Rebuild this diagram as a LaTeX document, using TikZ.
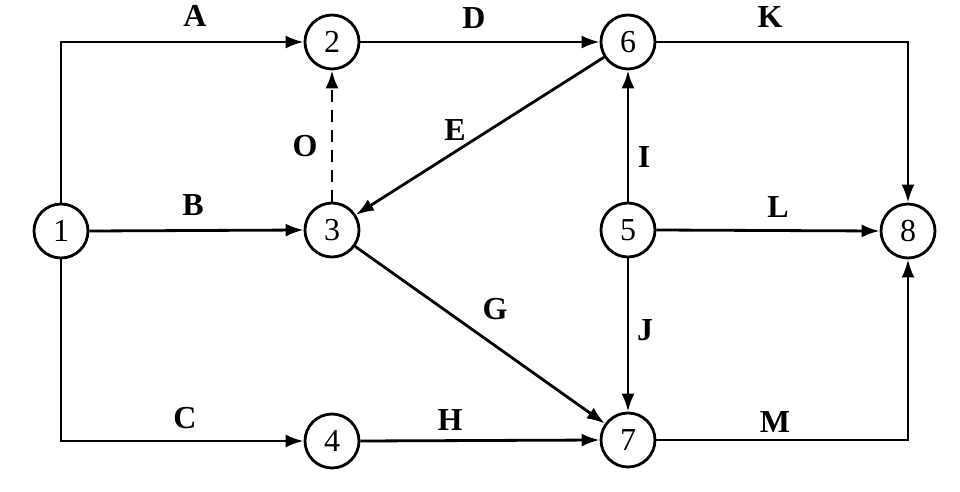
\documentclass[tikz,border=0pt]{standalone}
\usepackage{fontspec}
\setmainfont{Liberation Serif}
\usetikzlibrary{arrows.meta}
\begin{document}
\begin{tikzpicture}[x=1pt,y=-1pt,
  ev/.style={circle,draw,line width=2.8pt,minimum size=54pt,inner sep=0pt,font=\fontsize{32}{36}\selectfont},
  act/.style={line width=2.8pt,-{Latex[length=18pt,width=13pt]}},
  lab/.style={inner sep=0pt,font=\fontsize{32}{36}\selectfont\bfseries}]
\useasboundingbox (0,0) rectangle (960,492);
\node[ev] (n1) at (61,231) {1};
\node[ev] (n2) at (332,42) {2};
\node[ev] (n3) at (332,230) {3};
\node[ev] (n4) at (332,441) {4};
\node[ev] (n5) at (628,230) {5};
\node[ev] (n6) at (628,42) {6};
\node[ev] (n7) at (628,440) {7};
\node[ev] (n8) at (908,231) {8};
\draw[act] (n1.north) |- (n2.west);
\draw[act] (n1.east) -- (n3.west);
\draw[act] (n1.south) |- (n4.west);
\draw[act] (n2.east) -- (n6.west);
\draw[act,dash pattern=on 12pt off 8pt] (n3.north) -- (n2.south);
\draw[act] (n6) -- (n3);
\draw[act] (n3) -- (n7);
\draw[act] (n4.east) -- (n7.west);
\draw[act] (n5.north) -- (n6.south);
\draw[act] (n5.south) -- (n7.north);
\draw[act] (n5.east) -- (n8.west);
\draw[act] (n6.east) -| (n8.north);
\draw[act] (n7.east) -| (n8.south);
\node[lab] (lA) at (195,16) {A};
\node[lab] (lB) at (193,205) {B};
\node[lab] (lC) at (185,418) {C};
\node[lab] (lD) at (474,18) {D};
\node[lab] (lO) at (305,146) {O};
\node[lab] (lE) at (455,130) {E};
\node[lab] (lG) at (495,309) {G};
\node[lab] (lH) at (450,420) {H};
\node[lab] (lI) at (644,157) {I};
\node[lab] (lJ) at (645,330) {J};
\node[lab] (lK) at (770,17) {K};
\node[lab] (lL) at (778,207) {L};
\node[lab] (lM) at (775,422) {M};
\end{tikzpicture}
\end{document}
